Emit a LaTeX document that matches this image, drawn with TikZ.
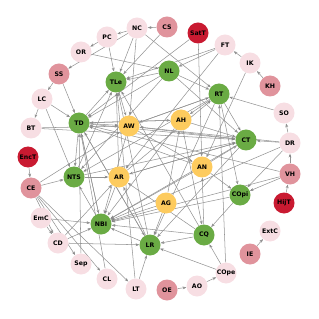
\documentclass[tikz,border=0pt]{standalone}
\usepackage{fontspec}
\setsansfont{DejaVu Sans}
\usetikzlibrary{arrows.meta, backgrounds}
\definecolor{palepink}{RGB}{247,222,227}
\definecolor{midpink}{RGB}{224,147,156}
\definecolor{darkred}{RGB}{201,26,49}
\definecolor{leafgreen}{RGB}{106,171,68}
\definecolor{sunyellow}{RGB}{253,203,94}
\begin{document}
\begin{tikzpicture}[
  x=0.03cm, y=-0.03cm,
  every node/.style={circle, inner sep=0pt, minimum size=0.63cm, font=\sffamily\bfseries\fontsize{5.3}{5.3}\selectfont},
  pale/.style={fill=palepink},
  mid/.style={fill=midpink},
  hot/.style={fill=darkred},
  core/.style={fill=leafgreen},
  warm/.style={fill=sunyellow},
  link/.style={draw=gray!85, line width=0.45pt, -{Stealth[length=3.2pt, width=2.4pt]}}
]
\useasboundingbox (0,0) rectangle (319,319);

\node [pale] (NC) at (137,28) {NC};
\node [mid] (CS) at (167,27) {CS};
\node [hot] (SatT) at (198,33) {SatT};
\node [pale] (PC) at (107,37) {PC};
\node [pale] (OR) at (81,52) {OR};
\node [pale] (FT) at (225,45) {FT};
\node [pale] (IK) at (250,63) {IK};
\node [mid] (KH) at (270,86) {KH};
\node [mid] (SS) at (59,74) {SS};
\node [core] (TLe) at (116,82) {TLe};
\node [core] (NL) at (169,71) {NL};
\node [pale] (LC) at (42,99) {LC};
\node [core] (RT) at (219,94) {RT};
\node [pale] (SO) at (284,113) {SO};
\node [pale] (BT) at (31,128) {BT};
\node [core] (TD) at (79,123) {TD};
\node [warm] (AW) at (129,126) {AW};
\node [warm] (AH) at (181,120) {AH};
\node [core] (CT) at (246,140) {CT};
\node [pale] (DR) at (290,143) {DR};
\node [hot] (EncT) at (28,157) {EncT};
\node [mid] (CE) at (31,188) {CE};
\node [core] (NTS) at (74,177) {NTS};
\node [warm] (AR) at (119,177) {AR};
\node [warm] (AN) at (202,167) {AN};
\node [mid] (VH) at (290,174) {VH};
\node [core] (COpi) at (240,195) {COpi};
\node [hot] (HijT) at (284,203) {HijT};
\node [warm] (AG) at (166,203) {AG};
\node [pale] (EmC) at (41,218) {EmC};
\node [core] (NBI) at (101,224) {NBI};
\node [pale] (ExtC) at (270,231) {ExtC};
\node [pale] (CD) at (58,243) {CD};
\node [core] (CQ) at (204,235) {CQ};
\node [core] (LR) at (150,245) {LR};
\node [mid] (IE) at (250,254) {IE};
\node [pale] (Sep) at (81,264) {Sep};
\node [pale] (CL) at (107,279) {CL};
\node [pale] (LT) at (136,289) {LT};
\node [pale] (COpe) at (226,273) {COpe};
\node [mid] (OE) at (167,290) {OE};
\node [pale] (AO) at (197,286) {AO};

\begin{pgfonlayer}{background}
\path [link]
  (CS) edge (NC) (NC) edge (PC) (PC) edge (OR) (NC) edge (SS)
  (SS) edge (LC) (LC) edge (BT) (EncT) edge (CE) (EmC) edge (CD)
  (CE) edge (CD) (CE) edge (Sep) (CE) edge (CL) (CE) edge (LT)
  (KH) edge (IK) (IK) edge (FT) (DR) edge (SO) (SO) edge (RT)
  (VH) edge (DR) (HijT) edge (VH) (IE) edge (ExtC) (OE) edge (AO)
  (AO) edge (COpe) (COpe) edge (LR) (COpe) edge (CQ) (COpe) edge (RT)
  (SS) edge (TD) (LC) edge (TD) (LC) edge (NTS) (BT) edge (AW)
  (BT) edge (CT) (TD) edge (TLe) (TD) edge (AW) (TD) edge (AH)
  (TD) edge (CT) (TD) edge (NTS) (TD) edge (NBI) (TD) edge (LR)
  (TLe) edge (AW) (NL) edge (TLe) (NL) edge (RT) (NL) edge (CT)
  (NL) edge (TD) (NL) edge (NTS) (PC) edge (TLe) (NC) edge (TLe)
  (NC) edge (AW) (NC) edge (RT) (OR) edge (NL) (SatT) edge (AN)
  (SatT) edge (TD) (CS) edge (TLe) (FT) edge (NL) (FT) edge (TLe)
  (IK) edge (AN) (FT) edge (AR) (RT) edge (CT) (RT) edge (AH)
  (RT) edge (AW) (RT) edge (COpi) (RT) edge (LR) (RT) edge (NTS)
  (AH) edge (TD) (AH) edge (CT) (AH) edge (NBI) (AH) edge (CQ)
  (AW) edge (RT) (AW) edge (CT) (AW) edge (NBI) (AW) edge (AN)
  (AR) edge (TLe) (AR) edge (NBI) (AR) edge (CT) (AR) edge (RT)
  (AN) edge (CT) (AN) edge (COpi) (AN) edge (NBI) (AN) edge (TD)
  (AG) edge (LR) (AG) edge (NBI) (AG) edge (AH) (CQ) edge (LR)
  (CQ) edge (NBI) (CQ) edge (AR) (COpi) edge (CQ) (COpi) edge (NBI)
  (DR) edge (CT) (DR) edge (COpi) (VH) edge (COpi) (DR) edge (NBI)
  (VH) edge (NBI) (CT) edge (NBI) (CT) edge (LR) (CT) edge (AR)
  (LR) edge (NBI) (LR) edge (AR) (LR) edge (TD) (LR) edge (TLe)
  (NBI) edge (NTS) (NBI) edge (TD) (NTS) edge (TLe) (NTS) edge (AR)
  (NTS) edge (CT) (CE) edge (NTS) (CE) edge (AW) (EmC) edge (NBI)
  (CD) edge (LR) (CD) edge (NBI) (CD) edge (AR) (Sep) edge (TD)
  (CL) edge (TD) (LT) edge (LR) (LT) edge (TLe) (CQ) edge (AN)
  (CQ) edge (TLe) (DR) edge (AW) (VH) edge (TD);
\end{pgfonlayer}
\end{tikzpicture}
\end{document}
